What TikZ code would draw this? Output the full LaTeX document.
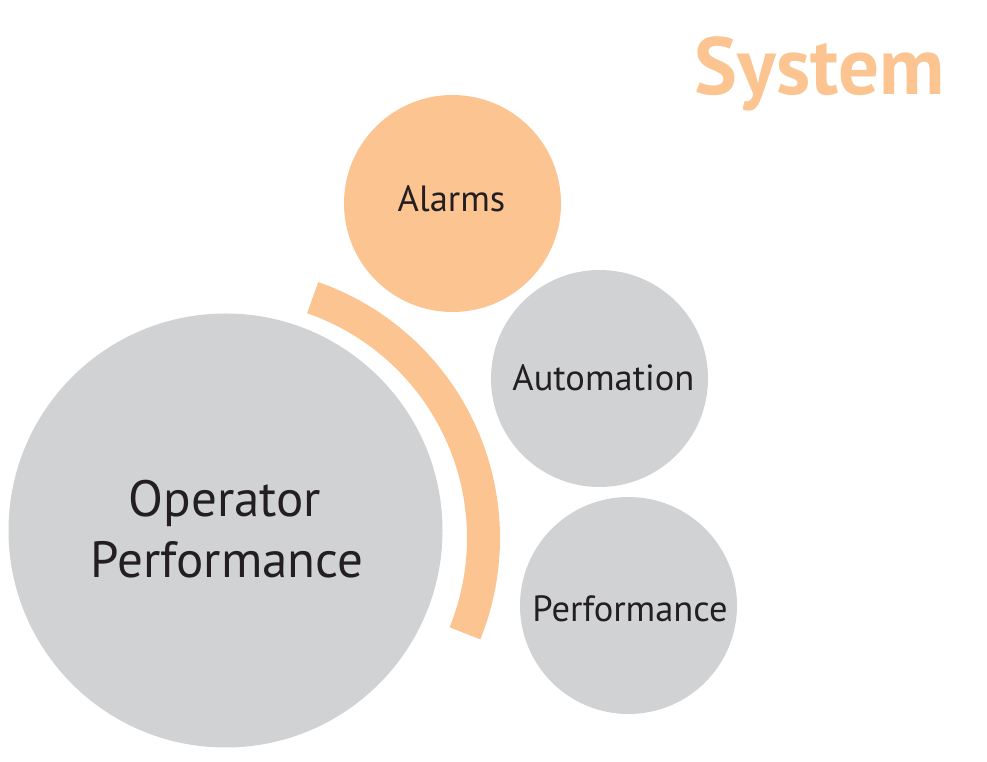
\documentclass[tikz,border=0pt]{standalone}
\usepackage{fontspec}
\setmainfont{PT Sans}
\definecolor{orng}{HTML}{FCC491}
\definecolor{gry}{HTML}{D1D2D4}
\definecolor{ink}{HTML}{231F20}
\begin{document}
\begin{tikzpicture}[x=1pt,y=1pt,
  bubble/.style={circle,inner sep=0pt,draw=none},
  small/.style={bubble,minimum size=217pt},
  lbl/.style={anchor=base,text=ink,inner sep=0pt},
  smalllbl/.style={lbl,font=\fontsize{36.5}{42}\selectfont},
  biglbl/.style={lbl,font=\fontsize{51}{60}\selectfont}]
\useasboundingbox (0,0) rectangle (987,762);
\fill[white] (0,0) rectangle (987,762);
% big circle
\node[bubble,fill=gry,minimum size=434pt] (op) at (225.5,231.5) {};
% arc band
\coordinate (arcc) at (229,224);
\draw[orng,line width=33pt] ([shift={(70.8:254.5)}]arcc) arc[start angle=70.8,end angle=-22,radius=254.5];
% small circles
\node[small,fill=orng] (alarms) at (452.5,558.5) {};
\node[small,fill=gry] (auto) at (599.5,383.5) {};
\node[small,fill=gry] (perf) at (628.5,156.5) {};
% labels
\node[smalllbl] (alarmsT) at (451.5,550.3) {Alarms};
\node[smalllbl] (autoT) at (603.4,371.3) {Automation};
\node[smalllbl] (perfT) at (630,140.3) {Performance};
\node[biglbl] (opT1) at (225,245.3) {Operator};
\node[biglbl] (opT2) at (227,184) {Performance};
\node[lbl,text=orng,font=\fontsize{81}{95}\selectfont\bfseries] (sys) at (819.5,667) {System};
\end{tikzpicture}
\end{document}
